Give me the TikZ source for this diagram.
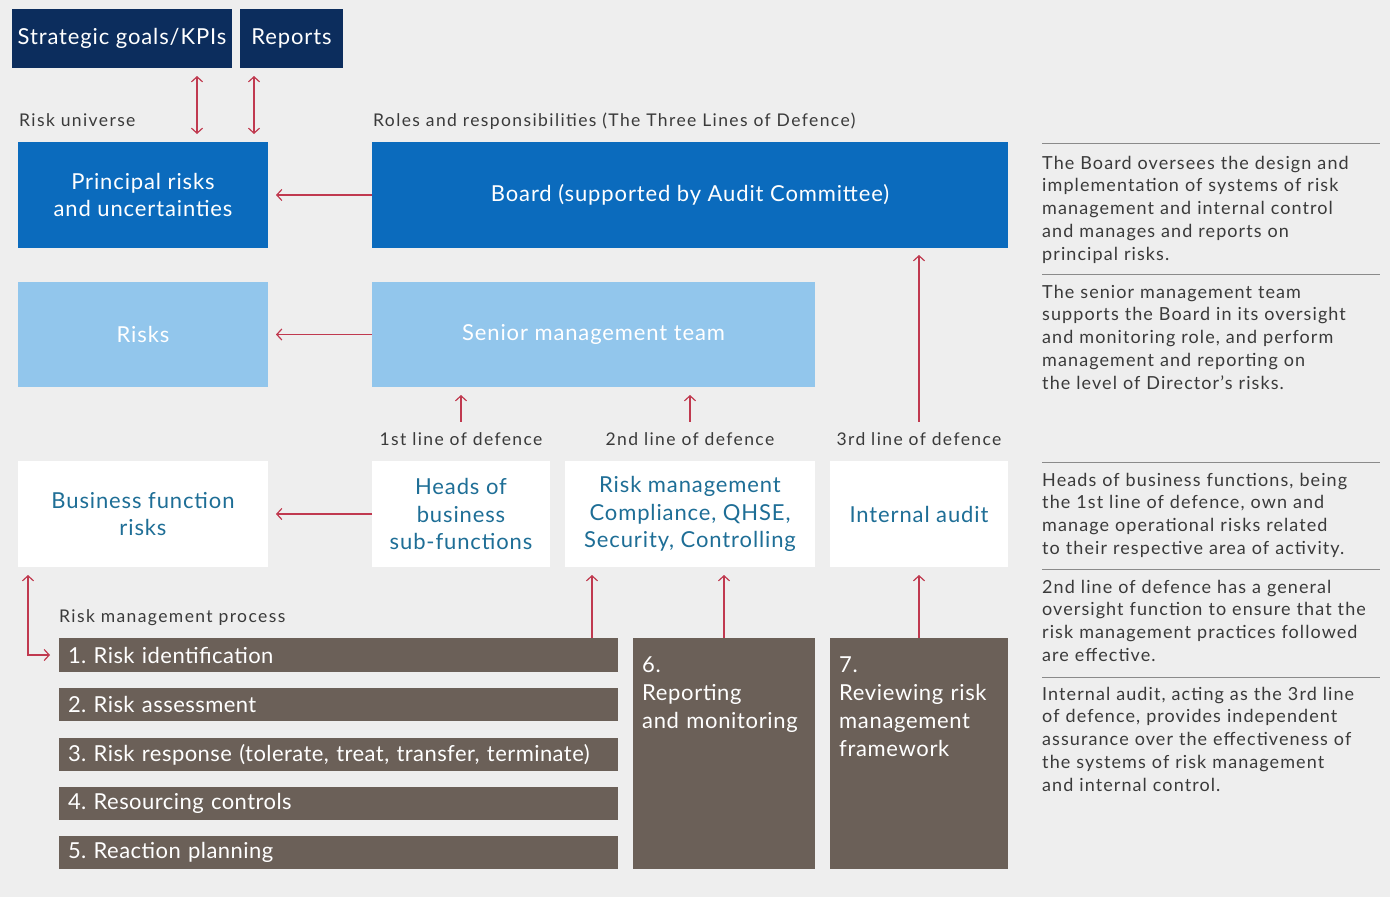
\documentclass[tikz,border=0pt]{standalone}
\usepackage{fontspec}
\setmainfont{Lato}
\usetikzlibrary{arrows.meta}
\definecolor{pagebg}{HTML}{EEEEEE}
\definecolor{navy}{HTML}{0C2D5D}
\definecolor{midblue}{HTML}{0B6BBD}
\definecolor{lightblue}{HTML}{92C6EC}
\definecolor{brownbar}{HTML}{6B6058}
\definecolor{linkred}{HTML}{C0394F}
\definecolor{tealtext}{HTML}{1E6E96}
\definecolor{bodytext}{HTML}{3A3A3A}
\definecolor{rulegray}{HTML}{8A8A8A}
\newcommand{\boxfont}{\fontsize{22}{27.5}\selectfont\addfontfeatures{LetterSpace=4}}
\newcommand{\barfont}{\fontsize{22}{26}\selectfont\addfontfeatures{LetterSpace=2}}
\newcommand{\stepfont}{\fontsize{22}{28}\selectfont\addfontfeatures{LetterSpace=3}}
\newcommand{\capfont}{\fontsize{17.5}{20}\selectfont\addfontfeatures{LetterSpace=8}}
\newcommand{\notefont}{\fontsize{18}{22.8}\selectfont\addfontfeatures{LetterSpace=6}}
\begin{document}
\frenchspacing
\begin{tikzpicture}[x=1pt,y=-1pt,
  box/.style={anchor=north west, inner sep=0pt, outer sep=0pt, align=center,
    font=\boxfont},
  darkbox/.style={box, fill=navy, text=white},
  mainbox/.style={box, fill=midblue, text=white},
  lightbox/.style={box, fill=lightblue, text=white},
  whitebox/.style={box, fill=white, text=tealtext},
  procbar/.style={anchor=north west, fill=brownbar, text=white, minimum width=559pt,
    text width=541pt, inner xsep=9pt, inner ysep=0pt, outer sep=0pt, align=left,
    font=\barfont},
  procbox/.style={anchor=north west, fill=brownbar, inner sep=0pt, outer sep=0pt,
    minimum height=231pt},
  proctext/.style={anchor=base west, text=white, inner sep=0pt, align=left,
    text width=170pt, font=\stepfont},
  caption/.style={inner sep=0pt, text=bodytext, font=\capfont},
  note/.style={anchor=base west, inner sep=0pt, text=bodytext, text width=345pt,
    align=left, font=\notefont},
  sep/.style={draw=rulegray, line width=0.8pt},
  link/.style={draw=linkred, line width=1.2pt, -{Straight Barb[length=5pt,width=11pt]}},
  twoway/.style={draw=linkred, line width=1.2pt,
    {Straight Barb[length=5pt,width=11pt]}-{Straight Barb[length=5pt,width=11pt]}}
]
\fill[pagebg] (0,0) rectangle (1390,897);
\useasboundingbox (0,0) rectangle (1390,897);

% top: goals and reports
\node[darkbox, minimum width=220pt, minimum height=59pt] (goals) at (12,9) {Strategic goals/KPIs};
\node[darkbox, minimum width=103pt, minimum height=59pt] (reports) at (240,9) {Reports};

% section captions
\node[caption, anchor=base west] (universe) at (19,126) {Risk universe};
\node[caption, anchor=base west] (roles) at (373,126) {Roles and responsibilities (The Three Lines of Defence)};

% risk universe column and roles
\node[mainbox, minimum width=250pt, minimum height=106pt] (principal) at (18,142) {Principal risks\\and uncertainties};
\node[mainbox, minimum width=636pt, minimum height=106pt] (board) at (372,142) {Board (supported by Audit Committee)};
\node[lightbox, minimum width=250pt, minimum height=105pt] (risks) at (18,282) {Risks};
\node[lightbox, minimum width=443pt, minimum height=105pt] (senior) at (372,282) {Senior management team};

% lines of defence
\node[caption, anchor=base] (line1) at (461,445) {1st line of defence};
\node[caption, anchor=base] (line2) at (690,445) {2nd line of defence};
\node[caption, anchor=base] (line3) at (919,445) {3rd line of defence};

\node[whitebox, minimum width=250pt, minimum height=106pt] (bizrisks) at (18,461) {Business function\\risks};
\node[whitebox, minimum width=178pt, minimum height=106pt] (heads) at (372,461) {Heads of\\business\\sub-functions};
\node[whitebox, minimum width=250pt, minimum height=106pt] (riskmgmt) at (565,461) {Risk management\\Compliance, QHSE,\\Security, Controlling};
\node[whitebox, minimum width=178pt, minimum height=106pt] (audit) at (830,461) {Internal audit};

% risk management process
\node[caption, anchor=base west] (process) at (59,622) {Risk management process};
\node[procbar, minimum height=34pt] (step1) at (59,638) {1. Risk identification};
\node[procbar, minimum height=33pt] (step2) at (59,688) {2. Risk assessment};
\node[procbar, minimum height=33pt] (step3) at (59,738) {3. Risk response (tolerate, treat, transfer, terminate)};
\node[procbar, minimum height=33pt] (step4) at (59,787) {4. Resourcing controls};
\node[procbar, minimum height=33pt] (step5) at (59,836) {5. Reaction planning};

\node[procbox, minimum width=182pt] (step6) at (633,638) {};
\node[proctext] (step6text) at ([xshift=9pt,yshift=-34pt]step6.north west) {6.\\Reporting\\and monitoring};
\node[procbox, minimum width=178pt] (step7) at (830,638) {};
\node[proctext] (step7text) at ([xshift=9pt,yshift=-34pt]step7.north west) {7.\\Reviewing risk\\management\\framework};

% connectors
\coordinate (goalsdrop) at ([xshift=-35pt]goals.south east);
\coordinate (reportsdrop) at ([xshift=14pt]reports.south west);
\draw[twoway, shorten <=8pt, shorten >=8pt] (goalsdrop) -- (goalsdrop |- principal.north);
\draw[twoway, shorten <=8pt, shorten >=8pt] (reportsdrop) -- (reportsdrop |- principal.north);

\draw[link, shorten >=8pt] (board.west) -- (principal.east |- board.west);
\draw[link, shorten >=8pt] (senior.west) -- (risks.east |- senior.west);
\draw[link, shorten >=8pt] (heads.west) -- (bizrisks.east |- heads.west);

\draw[link, shorten <=10pt, shorten >=8pt] (line1.north) -- (line1.north |- senior.south);
\draw[link, shorten <=10pt, shorten >=8pt] (line2.north) -- (line2.north |- senior.south);
\draw[link, shorten <=10pt, shorten >=7pt] (line3.north) -- (line3.north |- board.south);

\coordinate (step1rise) at ([xshift=-26pt]step1.north east);
\draw[link, shorten >=8pt] (step1rise) -- (step1rise |- riskmgmt.south);
\draw[link, shorten >=8pt] (step6.north) -- (step6.north |- riskmgmt.south);
\draw[link, shorten >=8pt] (step7.north) -- (step7.north |- audit.south);

\coordinate (loopstart) at ([xshift=10pt,yshift=-8pt]bizrisks.south west);
\coordinate (loopend) at ([xshift=-9pt]step1.west);
\draw[twoway] (loopstart) |- (loopend);

% explanatory notes
\draw[sep] (1042,143) -- (1380,143);
\node[note] (noteboard) at (1042,169) {The Board oversees the design and\\implementation of systems of risk\\management and internal control\\and manages and reports on\\principal risks.};
\draw[sep] (1042,274) -- (1380,274);
\node[note] (notesenior) at (1042,298) {The senior management team\\supports the Board in its oversight\\and monitoring role, and perform\\management and reporting on\\the level of Director's risks.};
\draw[sep] (1042,462) -- (1380,462);
\node[note] (notefirst) at (1042,486) {Heads of business functions, being\\the 1st line of defence, own and\\manage operational risks related\\to their respective area of activity.};
\draw[sep] (1042,569) -- (1380,569);
\node[note] (notesecond) at (1042,593) {2nd line of defence has a general\\oversight function to ensure that the\\risk management practices followed\\are effective.};
\draw[sep] (1042,677) -- (1380,677);
\node[note] (notethird) at (1042,700) {Internal audit, acting as the 3rd line\\of defence, provides independent\\assurance over the effectiveness of\\the systems of risk management\\and internal control.};
\end{tikzpicture}
\end{document}
